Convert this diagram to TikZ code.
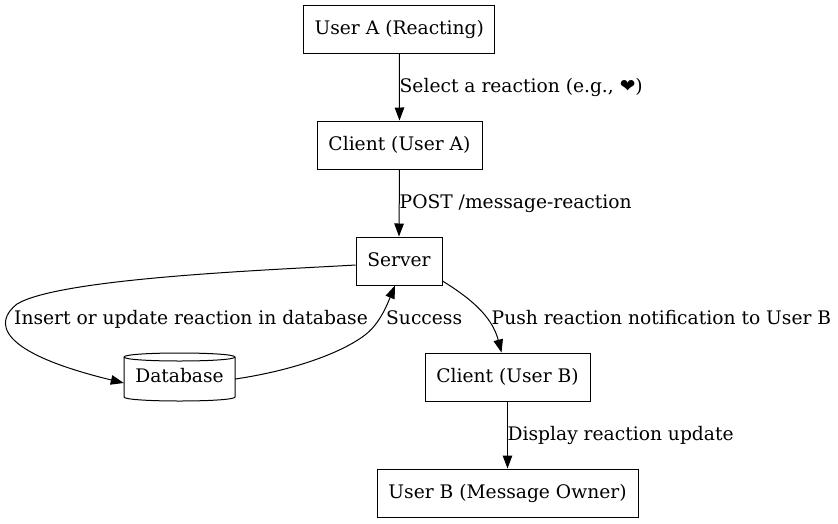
\documentclass[tikz,border=0pt]{standalone}
\usepackage{fontspec}
\setmainfont{DejaVu Serif}
\newfontfamily\symfont{DejaVu Sans}
\usetikzlibrary{arrows.meta,positioning}
\tikzset{
  x=1pt,y=-1pt,
  txt/.style={text height=14pt,text depth=4pt,font=\fontsize{18.67}{22}\selectfont},
  box/.style={draw=black,line width=1pt,rectangle,inner sep=0pt,txt,minimum height=48pt},
  lbl/.style={anchor=west,inner sep=0pt,txt},
  edge/.style={draw=black,line width=1pt,-{Triangle[length=13pt,width=9.5pt]}},
  cyl/.style={draw=black,line width=1pt},
}
\begin{document}
\begin{tikzpicture}
\useasboundingbox (0,0) rectangle (838,523);
\path[fill=white] (0,0) rectangle (838,523);
\node[box,minimum width=191pt] (ua) at (399.3,29) {User A (Reacting)};
\node[box,minimum width=165pt] (ca) at (399.5,145) {Client (User A)};
\node[box,minimum width=86pt] (srv) at (399,261) {Server};
\node[inner sep=0pt,minimum width=111pt,minimum height=48pt,txt] (db) at (179.5,377) {Database};
\node[box,minimum width=165pt] (cb) at (507.5,377) {Client (User B)};
\node[box,minimum width=261pt] (ub) at (507.5,493) {User B (Message Owner)};
\draw[cyl] (124,357) .. controls (124,354.5) and (150,353) .. (179.5,353) .. controls (209,353) and (235,354.5) .. (235,357)
  -- (235,397) .. controls (235,399.5) and (209,401) .. (179.5,401) .. controls (150,401) and (124,399.5) .. (124,397) -- cycle;
\draw[cyl] (124,357) .. controls (124,359.5) and (150,361) .. (179.5,361) .. controls (209,361) and (235,359.5) .. (235,357);
\draw[edge] (ua.south) -- (ca.north);
\draw[edge] (ca.south) -- (srv.north);
\draw[edge] (cb.south) -- (ub.north);
\draw[edge] ([yshift=-4pt]srv.west) .. controls (270,270) and (60,278) .. (17,304)
  .. controls (-6,322) and (-4,352) .. ([yshift=-6pt]db.west);
\draw[edge] ([yshift=-2pt]db.east) .. controls (290,371) and (340,354) .. (365,335)
  .. controls (378,325) and (385,310) .. ([xshift=-4pt]srv.south);
\draw[edge] ([yshift=-20pt]srv.east) .. controls (470,298) and (492,316) .. ([xshift=-6pt]cb.north);
\node[lbl] (l1) at (399.5,87) {Select a reaction (e.g., {\symfont\char"2764})};
\node[lbl] (l2) at (399.5,203) {POST /message-reaction};
\node[lbl] (l3) at (14,319) {Insert or update reaction in database};
\node[lbl] (l4) at (386,319) {Success};
\node[lbl] (l5) at (491.5,319) {Push reaction notification to User B};
\node[lbl] (l6) at (507.5,435) {Display reaction update};
\end{tikzpicture}
\end{document}
